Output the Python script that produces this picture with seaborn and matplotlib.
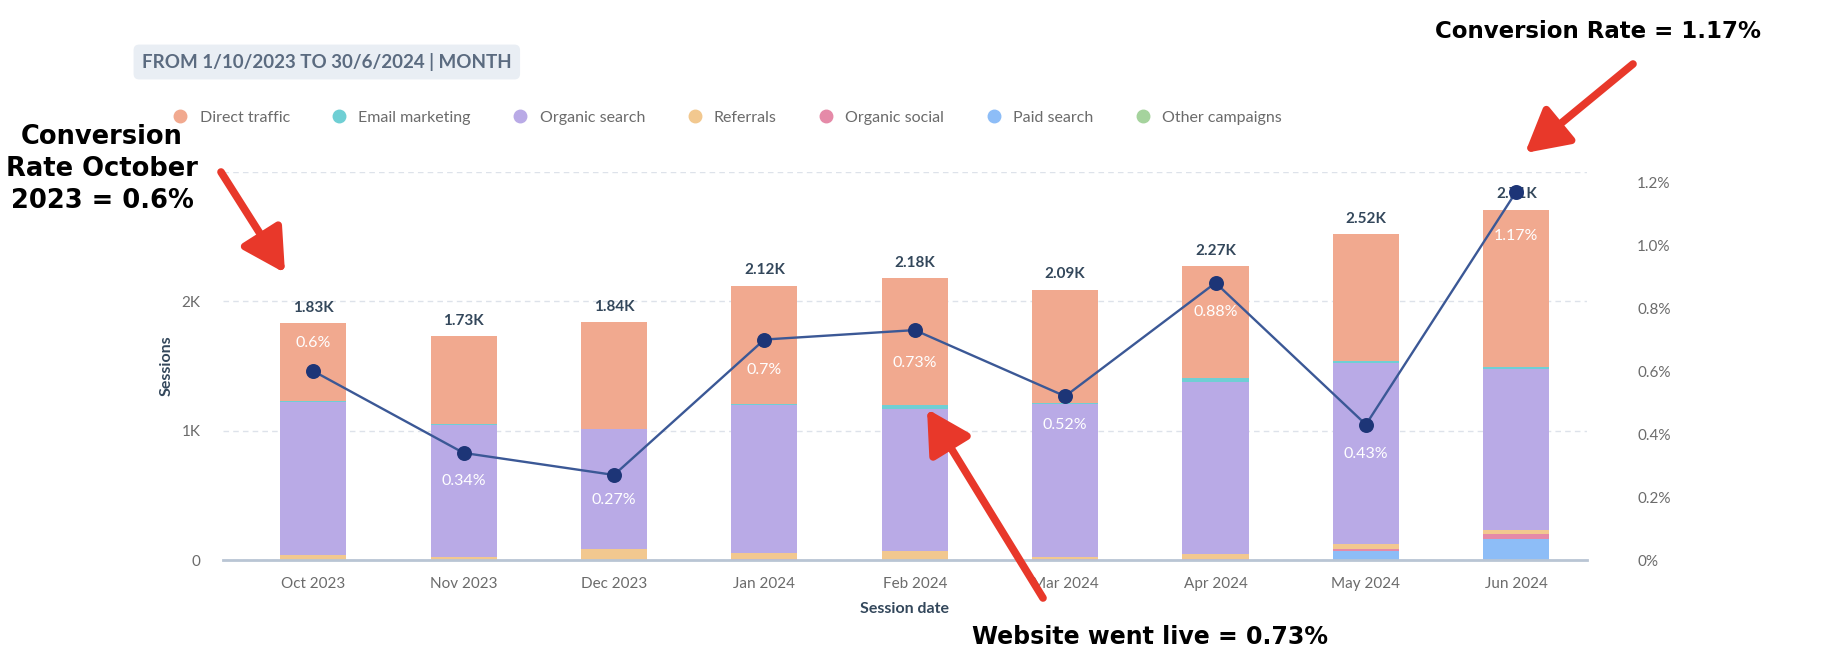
import numpy as np
import pandas as pd
import matplotlib.pyplot as plt
import seaborn as sns
from matplotlib.lines import Line2D

# data
months = ["Oct 2023", "Nov 2023", "Dec 2023", "Jan 2024", "Feb 2024",
          "Mar 2024", "Apr 2024", "May 2024", "Jun 2024"]
total_sessions = [1830, 1730, 1840, 2120, 2180, 2090, 2270, 2520, 2710]
total_labels = ["1.83K", "1.73K", "1.84K", "2.12K", "2.18K", "2.09K", "2.27K", "2.52K", "2.71K"]
paid_search = [0, 0, 0, 0, 0, 0, 0, 72, 164]
organic_social = [0, 0, 0, 10, 0, 5, 10, 12, 35]
referrals = [40, 25, 86, 45, 72, 15, 35, 37, 30]
organic_search = [1180, 1015, 924, 1145, 1098, 1190, 1330, 1399, 1251]
email_marketing = [10, 15, 5, 10, 30, 5, 30, 15, 10]
other_campaigns = [0, 0, 0, 0, 0, 0, 0, 0, 0]
conversion_rate = [0.6, 0.34, 0.27, 0.7, 0.73, 0.52, 0.88, 0.43, 1.17]
rate_labels = ["0.6%", "0.34%", "0.27%", "0.7%", "0.73%", "0.52%", "0.88%", "0.43%", "1.17%"]

direct_traffic = [t - p - s - r - o - e for t, p, s, r, o, e in
                  zip(total_sessions, paid_search, organic_social, referrals, organic_search, email_marketing)]

# stack order bottom -> top
layers = [
    ("Paid search", paid_search, "#8dbdf7"),
    ("Organic social", organic_social, "#e58aa8"),
    ("Referrals", referrals, "#f2c88f"),
    ("Organic search", organic_search, "#b9aae6"),
    ("Email marketing", email_marketing, "#6fcfd4"),
    ("Direct traffic", direct_traffic, "#f1a98f"),
    ("Other campaigns", other_campaigns, "#a5d39d"),
]
legend_order = ["Direct traffic", "Email marketing", "Organic search", "Referrals",
                "Organic social", "Paid search", "Other campaigns"]

sns.set_theme(style="white")
plt.rcParams['font.family'] = ['Lato', 'DejaVu Sans']

W, H = 1822, 668
fig = plt.figure(figsize=(W / 100, H / 100), dpi=100)
ax = fig.add_axes([223 / W, (H - 560) / H, (1587 - 223) / W, (560 - 172) / H])

# stacked bars: draw cumulative heights from the top down
cum = np.cumsum([np.array(v) for _, v, _ in layers], axis=0)
for i in range(len(layers) - 1, -1, -1):
    sns.barplot(x=months, y=cum[i], color=layers[i][2], saturation=1, width=0.44,
                ax=ax, linewidth=0, zorder=2)

ax.set_ylim(0, 3000)
ax.set_xlim(-0.6, 8.47)
ax.set_yticks([0, 1000, 2000, 3000])
ax.set_yticklabels(["0", "1K", "2K", ""])
ax.yaxis.grid(True, linestyle=(0, (4, 3)), color="#dde2ea", linewidth=1)
ax.set_axisbelow(True)
for side in ["top", "right", "left"]:
    ax.spines[side].set_visible(False)
ax.spines["bottom"].set_color("#b9c5d4")
ax.spines["bottom"].set_linewidth(2)
ax.tick_params(axis="both", length=0, labelsize=11, colors="#6b6b6b")
ax.tick_params(axis="y", pad=16)
ax.tick_params(axis="x", pad=12)
ax.set_xlabel("Session date", fontsize=11.5, fontweight="bold", color="#33475b", labelpad=8)
ax.set_ylabel("Sessions", fontsize=11.5, fontweight="bold", color="#33475b", labelpad=6)

for i, lab in enumerate(total_labels):
    ax.annotate(lab, (i, total_sessions[i]), xytext=(0, 6), textcoords="offset points",
                ha="center", va="bottom", fontsize=11, fontweight="bold", color="#33475b")

# conversion rate on the right axis
ax2 = ax.twinx()
sns.pointplot(x=months, y=conversion_rate, ax=ax2, color="#3b5896", markers="o",
              markersize=9.5, linewidth=1.7)
for ln in ax2.lines:
    ln.set_markerfacecolor("#1d3577")
    ln.set_markeredgecolor("#1d3577")
ax2.set_ylim(0, 1.232)
ax2.set_xlim(-0.6, 8.47)
ax2.set_yticks([0, 0.2, 0.4, 0.6, 0.8, 1.0, 1.2])
ax2.set_yticklabels(["0%", "0.2%", "0.4%", "0.6%", "0.8%", "1.0%", "1.2%"])
ax2.tick_params(axis="y", length=0, labelsize=11, colors="#6b6b6b", pad=36)
ax2.set_xlabel("")
ax2.set_ylabel("")
for side in ["top", "right", "left", "bottom"]:
    ax2.spines[side].set_visible(False)

label_offsets = [20, -20, -18, -22, -24, -21, -21, -21, -32]
for i, lab in enumerate(rate_labels):
    ax2.annotate(lab, (i, conversion_rate[i]), xytext=(0, label_offsets[i]), textcoords="offset points",
                 ha="center", va="center", fontsize=11.5, color="white")

# legend
colors = {name: c for name, _, c in layers}
handles = [Line2D([], [], marker="o", linestyle="", markersize=9,
                  markerfacecolor=colors[n], markeredgecolor=colors[n]) for n in legend_order]
leg = fig.legend(handles, legend_order, ncol=7, loc="center left", bbox_to_anchor=(150 / W, (H - 118) / H),
                 frameon=False, fontsize=11.5, handletextpad=0.2, columnspacing=2.1)
for t in leg.get_texts():
    t.set_color("#6b6b6b")

# header tag
fig.text(142 / W, (H - 62) / H, "FROM 1/10/2023 TO 30/6/2024 | MONTH", fontsize=13.5, fontweight="bold",
         color="#5b6b80", ha="left", va="center",
         bbox=dict(boxstyle="round,pad=0.45,rounding_size=0.3", fc="#e9eef4", ec="none"))

# call-outs
red = "#e8382a"
fig.text(1598 / W, (H - 31) / H, "Conversion Rate = 1.17%", fontsize=16.5, fontweight="bold",
         family="DejaVu Sans", ha="center", va="center", color="black")
fig.text(102 / W, (H - 169) / H, "Conversion\nRate October\n2023 = 0.6%", fontsize=18.5, fontweight="bold",
         family="DejaVu Sans", ha="center", va="center", color="black", linespacing=1.3)
fig.text(1150 / W, (H - 637) / H, "Website went live = 0.73%", fontsize=17, fontweight="bold",
         family="DejaVu Sans", ha="center", va="center", color="black")

arrows = [((1633, 64), (1525, 153)), ((221, 172), (285, 273)), ((1043, 598), (927, 409))]
for (x0, y0), (x1, y1) in arrows:
    fig.add_artist(plt.Annotation("", xy=(x1 / W, (H - y1) / H), xytext=(x0 / W, (H - y0) / H),
                                  xycoords="figure fraction", textcoords="figure fraction",
                                  arrowprops=dict(arrowstyle="-|>,head_length=1.0,head_width=0.55",
                                                  color=red, lw=5.5, mutation_scale=26,
                                                  shrinkA=0, shrinkB=0)))

fig.savefig("out.png", dpi=100)
